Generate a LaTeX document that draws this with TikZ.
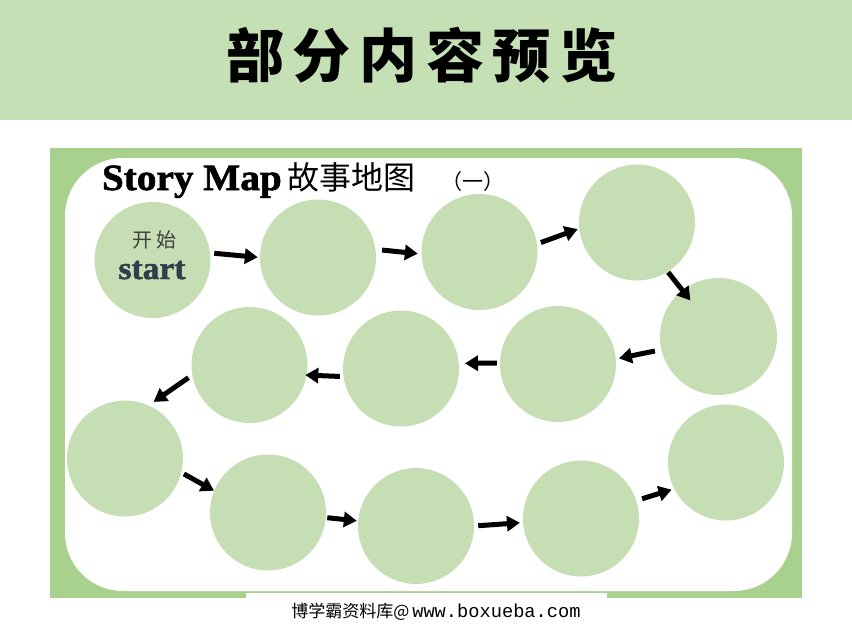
\documentclass[tikz,border=0pt]{standalone}
\usepackage{fontspec}
\setmainfont{Liberation Serif}
\newfontfamily\cjk{Noto Sans CJK SC}
\newfontfamily\mono{Liberation Mono}
\usetikzlibrary{arrows.meta}
\definecolor{bandgreen}{HTML}{C5E0B4}
\definecolor{framegreen}{HTML}{A9D18E}
\definecolor{discgreen}{HTML}{C5DEB3}
\definecolor{slate}{HTML}{2F3D4C}
\definecolor{darkgraytext}{HTML}{3F3F3F}
\tikzset{
  disc/.style={circle,fill=discgreen,minimum size=116pt,inner sep=0pt},
  arr/.style={line width=5pt,-{Triangle[length=13pt,width=15pt]}},
  plain/.style={inner sep=0pt,outer sep=0pt}
}
\begin{document}
\begin{tikzpicture}[x=1pt,y=-1pt]
\useasboundingbox (0,0) rectangle (852,635);
\fill[white] (0,0) rectangle (852,635);
% top band
\fill[bandgreen] (0,0) rectangle (852,120);
\node[plain] (title) at (422,55)
  {\cjk\bfseries\fontsize{58}{58}\selectfont\addfontfeatures{LetterSpace=15}部分内容预览};
% frame
\fill[framegreen] (50,148) rectangle (802,598);
\fill[white,rounded corners=58pt] (65,158) rectangle (792,591);
\fill[white] (246,593) rectangle (607,635);
% circles
\node[disc] (c1) at (152.5,260) {};
\node[disc] (c2) at (318,257.5) {};
\node[disc] (c3) at (479.5,252) {};
\node[disc] (c4) at (637,222.5) {};
\node[disc,minimum size=117pt] (c5) at (718.5,336.5) {};
\node[disc] (c6) at (558,364) {};
\node[disc] (c7) at (401,368.5) {};
\node[disc] (c8) at (249.5,365) {};
\node[disc] (c9) at (125,458.5) {};
\node[disc] (c10) at (268,512.5) {};
\node[disc] (c11) at (416,526) {};
\node[disc] (c12) at (581,518.5) {};
\node[disc] (c13) at (726,462.5) {};
% arrows
\draw[arr,shorten <=4pt,shorten >=2pt] (c1.7) -- (c2.180);
\draw[arr,shorten <=6.5pt,shorten >=3.5pt] (c2.8) -- (c3.182);
\draw[arr,shorten <=4pt,shorten >=1.5pt] (c3.8) -- (c4.186);
\draw[arr,shorten <=0.5pt,shorten >=-13pt] (c4.302) -- (c5.128);
\draw[arr,shorten <=6.5pt,shorten >=3pt] (c5.193) -- (c6.5);
\draw[arr,shorten <=3pt,shorten >=6pt] (c6.179) -- (c7.5);
\draw[arr,shorten <=3.5pt,shorten >=-1.5pt] (c7.188) -- (c8.350);
\draw[arr,shorten <=4.5pt,shorten >=6pt] (c8.190) -- (c9.66);
\draw[arr,shorten <=2.8pt,shorten >=0pt] (c9.346) -- (c10.158);
\draw[arr,shorten <=1.3pt,shorten >=1.2pt] (c10.355) -- (c11.175);
\draw[arr,shorten <=4pt,shorten >=3pt] (c11.0) -- (c12.184);
\draw[arr,shorten <=6pt,shorten >=2.6pt] (c12.18) -- (c13.207);
% start texts
\node[plain,text=darkgraytext] (kaishi) at (154,240)
  {\cjk\fontsize{20}{20}\selectfont\addfontfeatures{LetterSpace=20}开始};
\node[plain,anchor=base,text=slate] (start) at (152,279)
  {\scalebox{1.05}[1]{\bfseries\fontsize{32}{32}\selectfont\addfontfeatures{FakeBold=1.5}start}};
% heading
\node[plain,anchor=base west] (storymap) at (102,190)
  {\scalebox{1.06}[1]{\bfseries\fontsize{37}{37}\selectfont\addfontfeatures{FakeBold=1.5}Story Map}};
\node[plain,anchor=west] (gushi) at (287,177)
  {\cjk\fontsize{32}{32}\selectfont 故事地图};
\node[plain,anchor=west] (yi) at (441,182)
  {\cjk\fontsize{21}{21}\selectfont （一）};
% watermark
\node[plain] (wm) at (436,612)
  {{\cjk\fontsize{17}{17}\selectfont 博学霸资料库@\,}{\mono\fontsize{18.7}{18.7}\selectfont www.boxueba.com}};
\end{tikzpicture}
\end{document}
